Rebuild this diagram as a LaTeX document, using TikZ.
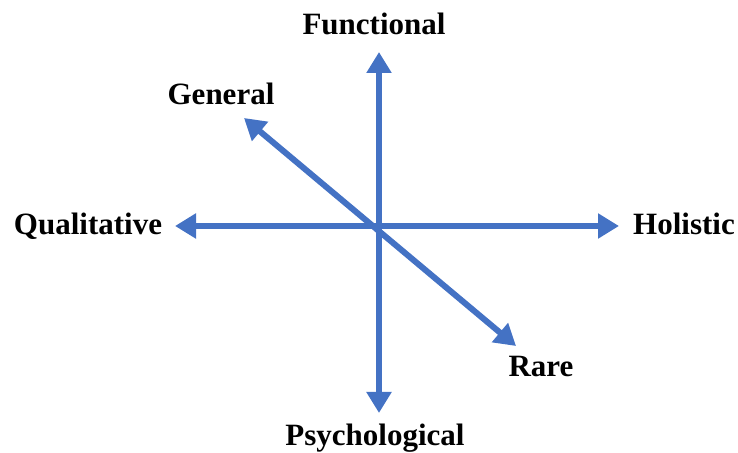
\documentclass[tikz,border=0pt]{standalone}
\usepackage{fontspec}
\setmainfont{Liberation Serif}
\usetikzlibrary{arrows.meta}

\definecolor{axisBlue}{HTML}{4472C4}

\tikzset{
  axis/.style={draw=axisBlue, line width=3pt, {Triangle[length=10.5pt,width=12pt]}-{Triangle[length=10.5pt,width=12pt]}},
  axisLabel/.style={anchor=base, inner sep=0pt, font=\fontsize{15.5}{18}\selectfont\bfseries}
}

\begin{document}
\begin{tikzpicture}[x=0.5pt, y=-0.5pt]
\useasboundingbox (0,0) rectangle (738,453);

\coordinate (topTip) at (379,52);
\coordinate (bottomTip) at (379,413);
\coordinate (leftTip) at (175,226);
\coordinate (rightTip) at (619,226);
\coordinate (generalTip) at (244,118);
\coordinate (rareTip) at (516,346);

\draw[axis] (topTip) -- (bottomTip);
\draw[axis] (leftTip) -- (rightTip);
\draw[axis] (generalTip) -- (rareTip);

\node[axisLabel](functional) at (374,35) {Functional};
\node[axisLabel](general) at (221,105) {General};
\node[axisLabel](qualitative) at (88,235) {Qualitative};
\node[axisLabel](holistic) at (684,235) {Holistic};
\node[axisLabel](rare) at (541,377) {Rare};
\node[axisLabel](psychological) at (375,446) {Psychological};

\end{tikzpicture}
\end{document}
